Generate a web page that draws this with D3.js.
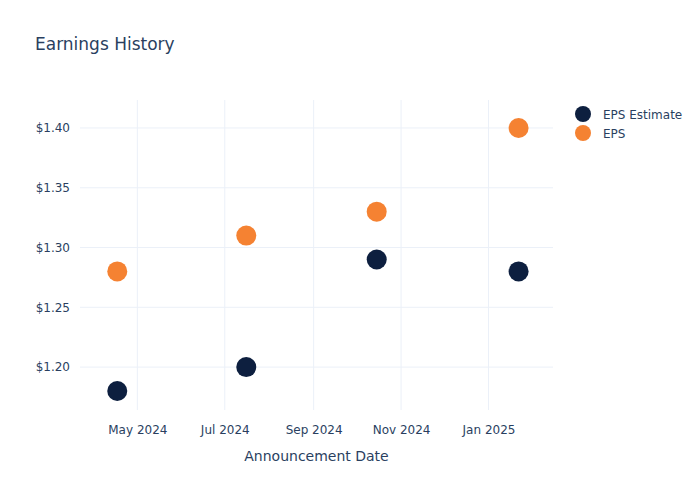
<!DOCTYPE html>
<html>
<head>
<meta charset="utf-8">
<script src="https://cdn.jsdelivr.net/npm/d3@7"></script>
<style>
  body { margin: 0; background: #fff; }
  text { font-family: "DejaVu Sans", "Open Sans", sans-serif; fill: #2a3f5f; }
</style>
</head>
<body>
<svg id="chart" width="700" height="500"></svg>
<script>
// Earnings history data
const dates = ['2024-04-17', '2024-07-16', '2024-10-15', '2025-01-22'];
const epsEstimate = [1.18, 1.20, 1.29, 1.28];
const epsActual = [1.28, 1.31, 1.33, 1.40];
const seriesNames = ['EPS Estimate', 'EPS'];
const seriesColors = ['#0d1f3f', '#f58232'];
const yTicks = [1.20, 1.25, 1.30, 1.35, 1.40];
const xTicks = ['2024-05-01', '2024-07-01', '2024-09-01', '2024-11-01', '2025-01-01'];

const parse = d3.timeParse('%Y-%m-%d');
const margin = { left: 80, right: 147, top: 100, bottom: 90 };
const width = 700, height = 500;

const svg = d3.select('#chart');

// scales
const x = d3.scaleTime()
  .domain([parse('2024-03-22'), parse('2025-02-15')])
  .range([margin.left, width - margin.right]);
const y = d3.scaleLinear()
  .domain([1.1641, 1.4234])
  .range([height - margin.bottom, margin.top]);

// gridlines
svg.append('g')
  .selectAll('line.ygrid')
  .data(yTicks)
  .join('line')
  .attr('x1', margin.left).attr('x2', width - margin.right)
  .attr('y1', d => y(d)).attr('y2', d => y(d))
  .attr('stroke', '#ebf0f8').attr('stroke-width', 1);

svg.append('g')
  .selectAll('line.xgrid')
  .data(xTicks.map(parse))
  .join('line')
  .attr('x1', d => x(d)).attr('x2', d => x(d))
  .attr('y1', margin.top).attr('y2', height - margin.bottom)
  .attr('stroke', '#ebf0f8').attr('stroke-width', 1);

// axes (labels only, like plotly)
const yAxis = svg.append('g')
  .attr('transform', `translate(${margin.left},0)`)
  .call(d3.axisLeft(y).tickValues(yTicks).tickSize(0).tickPadding(10)
    .tickFormat(d => '$' + d3.format('.2f')(d)));
yAxis.select('.domain').remove();
yAxis.selectAll('text').style('font-size', '12px').attr('fill', '#2a3f5f');

const xAxis = svg.append('g')
  .attr('transform', `translate(0,${height - margin.bottom})`)
  .call(d3.axisBottom(x).tickValues(xTicks.map(parse)).tickSize(0).tickPadding(15)
    .tickFormat(d3.timeFormat('%b %Y')));
xAxis.select('.domain').remove();
xAxis.selectAll('text').style('font-size', '12px').attr('fill', '#2a3f5f');

// axis title
svg.append('text')
  .attr('x', (margin.left + width - margin.right) / 2)
  .attr('y', 461)
  .attr('text-anchor', 'middle')
  .style('font-size', '14px')
  .text('Announcement Date');

// chart title
svg.append('text')
  .attr('x', 35).attr('y', 50)
  .style('font-size', '17px')
  .text('Earnings History');

// points
const series = [epsEstimate, epsActual];
series.forEach((vals, i) => {
  svg.append('g')
    .selectAll('circle')
    .data(vals.map((v, j) => ({ date: parse(dates[j]), v })))
    .join('circle')
    .attr('cx', d => x(d.date))
    .attr('cy', d => y(d.v))
    .attr('r', 10)
    .attr('fill', seriesColors[i]);
});

// legend
const legend = svg.append('g')
  .selectAll('g')
  .data(seriesNames)
  .join('g')
  .attr('transform', (d, i) => `translate(583,${114 + i * 19})`);
legend.append('circle')
  .attr('r', 8)
  .attr('fill', (d, i) => seriesColors[i]);
legend.append('text')
  .attr('x', 20).attr('y', 4.5)
  .style('font-size', '12px')
  .text(d => d);
</script>
</body>
</html>
